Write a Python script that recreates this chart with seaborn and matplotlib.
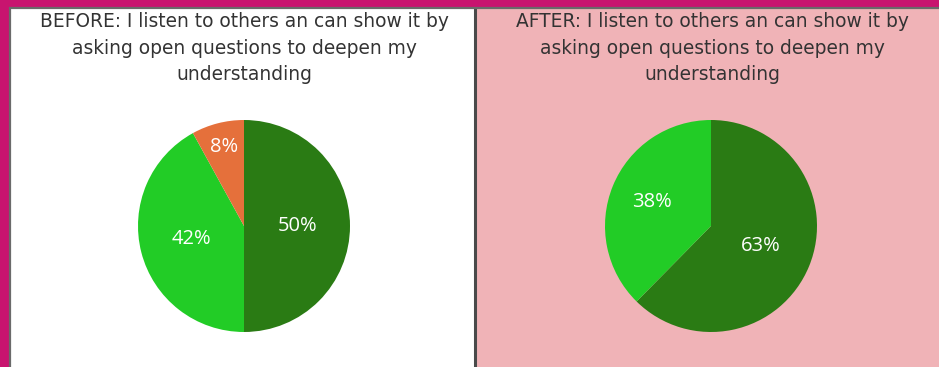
import matplotlib
matplotlib.use("Agg")
import matplotlib.pyplot as plt
from matplotlib.patches import Rectangle
import seaborn as sns

# Survey answers before and after
before_labels = ["Agree", "Somewhat agree", "Disagree"]
before_values = [50, 42, 8]
after_labels = ["Agree", "Somewhat agree"]
after_values = [63, 38]

titles = [
    "BEFORE: I listen to others an can show it by\nasking open questions to deepen my\nunderstanding",
    "AFTER: I listen to others an can show it by\nasking open questions to deepen my\nunderstanding",
]

sns.set_theme(style="white")
plt.rcParams["font.family"] = ["DejaVu Sans"]

palette = {"Agree": "#2A7B14", "Somewhat agree": "#22CC26", "Disagree": "#E5703B"}

W, H = 939, 367
fig = plt.figure(figsize=(W / 100, H / 100), dpi=100)
fig.patch.set_facecolor("#C8146F")

def px_rect(x0, y0, x1, y1):
    return (x0 / W, 1 - y1 / H, (x1 - x0) / W, (y1 - y0) / H)

# panel backgrounds
for (x0, x1, col) in [(10, 475, "#FFFFFF"), (475, 939, "#F0B3B7")]:
    l, b, w, h = px_rect(x0, 8, x1, H + 5)
    fig.patches.append(Rectangle((l, b), w, h, transform=fig.transFigure,
                                 facecolor=col, edgecolor="none", zorder=-2))
# frame lines
fig.patches.append(Rectangle((10 / W, -0.05), 1.0, 1 - 8 / H + 0.05,
                             transform=fig.transFigure, facecolor="none",
                             edgecolor="#6A6A6A", linewidth=1.6, zorder=-1))
fig.add_artist(plt.Line2D([475 / W, 475 / W], [0, 1 - 8 / H],
                          transform=fig.transFigure, color="#4A4A4A",
                          linewidth=2.2, zorder=-1))

def draw_pie(cx, cy, r, labels, values, title, tx):
    l, b, w, h = px_rect(cx - r, cy - r, cx + r, cy + r)
    ax = fig.add_axes([l, b, w, h], zorder=5)
    ax.patch.set_alpha(0)
    wedges, texts, autotexts = ax.pie(
        values, colors=[palette[k] for k in labels], startangle=90,
        counterclock=False, autopct=lambda p: f"{p:.0f}%", pctdistance=0.51,
        wedgeprops=dict(linewidth=0),
        textprops=dict(color="white", fontsize=14.5, family=["Open Sans", "DejaVu Sans"]),
        radius=1.0,
    )
    total = sum(values)
    for v, t in zip(values, autotexts):
        t.set_text(f"{v}%")
        if v / total < 0.15:
            x, y = t.get_position()
            t.set_position((x * 0.77 / 0.51, y * 0.77 / 0.51))
        elif v / total < 0.4:
            x, y = t.get_position()
            t.set_position((x * 0.6 / 0.51, y * 0.6 / 0.51))
    ax.set_xlim(-1, 1)
    ax.set_ylim(-1, 1)
    ax.set_aspect("equal")
    ax.axis("off")
    fig.text(tx / W, 1 - 48 / H, title, ha="center", va="center",
             fontsize=13.4, color="#333333", linespacing=1.5, zorder=6)

draw_pie(244, 226, 106, before_labels, before_values, titles[0], 244)
draw_pie(711, 226, 106, after_labels, after_values, titles[1], 712)

fig.savefig("out.png", dpi=100, facecolor=fig.get_facecolor())
